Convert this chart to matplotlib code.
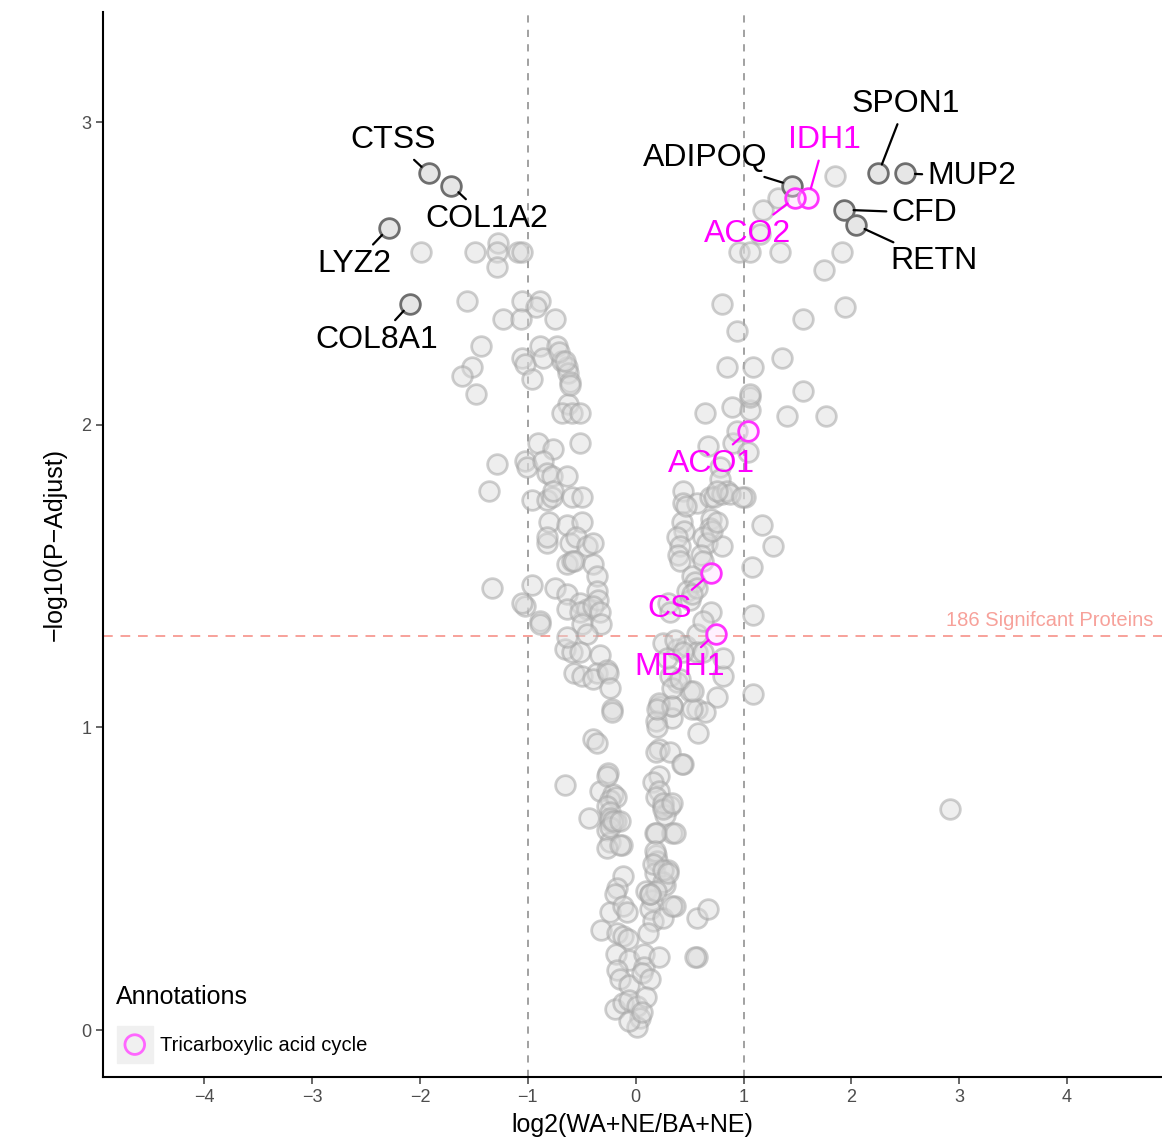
import matplotlib.pyplot as plt
import numpy as np

plt.rcParams['font.family'] = ['Liberation Sans', 'DejaVu Sans']

# log2 fold change / -log10 adjusted p for the unlabelled proteins
fc = [
    -1.99, -1.49, -1.28, -1.29, -1.29, -1.09, -1.05,
    -1.56, -1.05, -0.89, -0.92, -1.23, -1.06, -0.75,
    -1.43, -0.89, -0.73,
    -1.52, -1.05, -1.03, -0.86, -0.68, -0.64, -0.63, -0.61,
    -1.61, -0.96, -1.48, -0.63, -0.68, -0.59, -0.52,
    -0.71, -0.66, -0.61,
    -1.29, -1.36, -0.91, -0.77, -0.52, -1.03, -1.01, -0.86,
    -0.82, -0.78, -0.64, -0.96, -0.82, -0.78, -0.77, -0.59, -0.50,
    -0.80, -0.64, -0.50, -0.82, -0.82, -0.61, -0.55, -0.45, -0.40,
    -0.64, -0.59, -0.57, -0.40, -0.36,
    -1.33, -0.96, -0.75, -0.64, -1.03, -0.52, -0.45, -0.89, -0.36, -0.35,
    -0.89, -1.05, -0.64, -0.52, -0.50, -0.40, -0.33, -0.32,
    -0.45, -0.66, -0.59, -0.52, -0.33, -0.64,
    -0.57, -0.50, -0.36, -0.40, -0.27, -0.26,
    -0.24, -0.22, -0.22, -0.40, -0.36,
    -0.66, -0.26, -0.33, -0.21,
    -0.27, -0.24, -0.18, -0.27, -0.24, -0.24, -0.18, -0.27, -0.24, -0.13, -0.43,
    -0.24, -0.24, -0.21, -0.15, -0.27, -0.15,
    -0.12, -0.17, -0.19,
    -0.24, -0.12, -0.08, -0.32,
    -0.17, -0.12, -0.07,
    -0.18, -0.06, -0.17, -0.15, -0.06,
    -0.19, -0.12, -0.06, 0.01, 0.04, 0.01, -0.06,
    0.25, 0.32, 0.27, 0.18, 0.34,
    0.19, 0.20, 0.18, 0.30, 0.27,
    0.10, 0.15, 0.13, 0.16, 0.25, 0.11,
    0.36, 0.57, 0.67, 0.57,
    0.08, 0.08, 0.06, 0.22, 0.13,
    0.10, 0.06, 0.25, 0.13,
    0.75, 0.50, 0.38, 0.32, 0.81, 0.22, 0.34, 0.34, 0.19, 0.57, 0.64,
    0.58, 0.20, 0.22, 0.19, 0.32, 0.44, 0.22, 0.16, 0.22, 0.19, 0.25,
    0.25, 0.34, 0.19, 0.36, 0.18, 0.16, 0.25, 0.30, 0.19, 0.13, 0.34,
    0.55,
    0.22, 0.34, 0.20, 0.52, 0.43, 0.34, 0.41, 0.53, 0.25, 0.38, 0.47,
    0.29, 0.57, 0.57,
    0.64, 0.89, 1.06, 1.40, 0.67, 0.90, 1.04, 0.94,
    0.78, 0.78, 1.01, 0.44, 0.44, 0.57, 0.69, 0.73, 0.80, 0.85,
    0.43, 0.45, 0.70, 0.69, 1.17, 1.27,
    0.38, 0.41, 0.62, 0.66, 0.80,
    0.39, 0.41, 0.61, 0.62, 1.08,
    0.52, 0.55, 0.48, 0.50,
    0.70, 1.09, 0.30, 0.32,
    0.87, 0.99, 0.47, 0.75, 0.71, 0.75,
    0.57, 0.52, 0.62, 0.81, 0.36, 0.44, 0.62,
    1.85, 1.91, 1.75, 1.94, 1.55, 1.76, 1.55, 1.36,
    1.18, 1.32, 1.15, 0.96, 1.06, 1.34, 0.80, 0.94,
    0.85, 1.09, 1.06, 1.06, 2.91, 1.09,
]
nlp = [
    2.57, 2.57, 2.60, 2.57, 2.52, 2.57, 2.57,
    2.41, 2.41, 2.41, 2.39, 2.35, 2.35, 2.35,
    2.26, 2.26, 2.26,
    2.19, 2.22, 2.20, 2.22, 2.21, 2.19, 2.17, 2.14,
    2.16, 2.15, 2.10, 2.07, 2.04, 2.04, 2.04,
    2.24, 2.21, 2.13,
    1.87, 1.78, 1.94, 1.92, 1.94, 1.88, 1.86, 1.88,
    1.84, 1.83, 1.83, 1.75, 1.75, 1.76, 1.78, 1.76, 1.76,
    1.68, 1.67, 1.68, 1.61, 1.63, 1.61, 1.63, 1.60, 1.61,
    1.54, 1.55, 1.55, 1.54, 1.50,
    1.46, 1.47, 1.46, 1.44, 1.40, 1.41, 1.39, 1.35, 1.45, 1.42,
    1.34, 1.41, 1.39, 1.38, 1.34, 1.40, 1.38, 1.34,
    1.31, 1.26, 1.25, 1.25, 1.24, 1.30,
    1.18, 1.17, 1.18, 1.16, 1.19, 1.18,
    1.13, 1.06, 1.05, 0.96, 0.95,
    0.81, 0.85, 0.79, 0.78,
    0.84, 0.76, 0.77, 0.74, 0.72, 0.69, 0.69, 0.66, 0.62, 0.61, 0.70,
    0.70, 0.67, 0.69, 0.69, 0.60, 0.61,
    0.51, 0.47, 0.45,
    0.39, 0.41, 0.39, 0.33,
    0.32, 0.31, 0.30,
    0.25, 0.23, 0.20, 0.17, 0.15,
    0.07, 0.09, 0.10, 0.08, 0.04, 0.01, 0.03,
    0.74, 0.74, 0.71, 0.65, 0.65,
    0.58, 0.56, 0.52, 0.53, 0.48,
    0.46, 0.43, 0.40, 0.36, 0.37, 0.32,
    0.41, 0.37, 0.40, 0.24,
    0.25, 0.21, 0.19, 0.24, 0.17,
    0.11, 0.06, 0.49, 0.45,
    1.10, 1.12, 1.15, 1.17, 1.17, 1.07, 1.07, 1.03, 1.02, 1.06, 1.05,
    0.98, 1.00, 0.93, 0.92, 0.92, 0.88, 0.84, 0.82, 0.79, 0.77, 0.75,
    0.73, 0.75, 0.65, 0.65, 0.59, 0.55, 0.53, 0.52, 0.46, 0.45, 0.41,
    0.24,
    1.08, 1.07, 1.06, 1.06, 0.88, 1.13, 1.16, 1.12, 1.28, 1.26, 1.27,
    1.23, 1.31, 1.25,
    2.04, 2.06, 2.05, 2.03, 1.93, 1.94, 1.91, 1.98,
    1.86, 1.82, 1.76, 1.78, 1.74, 1.74, 1.76, 1.76, 1.77, 1.78,
    1.68, 1.65, 1.69, 1.66, 1.67, 1.60,
    1.63, 1.60, 1.63, 1.61, 1.60,
    1.57, 1.55, 1.57, 1.55, 1.53,
    1.50, 1.48, 1.45, 1.42,
    1.38, 1.37, 1.41, 1.38,
    1.77, 1.76, 1.73, 1.78, 1.65, 1.68,
    1.46, 1.44, 1.35, 1.23, 1.29, 1.25, 1.25,
    2.82, 2.57, 2.51, 2.39, 2.35, 2.03, 2.11, 2.22,
    2.71, 2.75, 2.63, 2.57, 2.57, 2.57, 2.40, 2.31,
    2.19, 2.19, 2.09, 2.10, 0.73, 1.11,
]

# labelled proteins
top_genes = ['CTSS', 'COL1A2', 'LYZ2', 'COL8A1', 'ADIPOQ', 'SPON1', 'MUP2', 'CFD', 'RETN']
top_fc = [-1.92, -1.71, -2.29, -2.09, 1.45, 2.25, 2.50, 1.93, 2.04]
top_nlp = [2.83, 2.79, 2.65, 2.40, 2.79, 2.83, 2.83, 2.71, 2.66]
top_text = [(-2.25, 2.94), (-1.38, 2.68), (-2.61, 2.53), (-2.40, 2.28), (0.64, 2.88),
            (2.50, 3.06), (3.12, 2.82), (2.68, 2.70), (2.77, 2.54)]

tca_genes = ['IDH1', 'ACO2', 'ACO1', 'CS', 'MDH1']
tca_fc = [1.60, 1.48, 1.04, 0.70, 0.74]
tca_nlp = [2.75, 2.75, 1.98, 1.51, 1.31]
tca_text = [(1.75, 2.94), (1.04, 2.63), (0.70, 1.87), (0.31, 1.39), (0.41, 1.20)]

n_sig = 186
p_cut = -np.log10(0.05)

fig = plt.figure(figsize=(11.62, 11.45), dpi=100)
ax = fig.add_axes([0.0886, 0.0594, 0.9114, 0.930])

ax.axvline(-1, color='#9a9a9a', ls=(0, (4, 4)), lw=1.3, zorder=1)
ax.axvline(1, color='#9a9a9a', ls=(0, (4, 4)), lw=1.3, zorder=1)
ax.axhline(p_cut, color='#f7a19a', ls=(0, (5, 4)), lw=1.4, zorder=1)
ax.text(4.8, p_cut + 0.022, f'{n_sig} Signifcant Proteins', color='#f7a19a',
        fontsize=14.5, ha='right', va='bottom')

ax.scatter(fc, nlp, s=200, facecolor=(0.86, 0.86, 0.86, 0.45),
           edgecolor=(0.65, 0.65, 0.65, 0.55), linewidth=2, zorder=2)
ax.scatter(top_fc, top_nlp, s=200, facecolor=(0.88, 0.88, 0.88, 0.8),
           edgecolor='#6e6e6e', linewidth=2, zorder=3)
ax.scatter(tca_fc, tca_nlp, s=200, facecolor=(1, 0.85, 1, 0.35),
           edgecolor='#ff33ff', linewidth=2, zorder=4)

for g, x, y, (tx, ty) in zip(top_genes, top_fc, top_nlp, top_text):
    ax.annotate(g, (x, y), xytext=(tx, ty), fontsize=23, color='black',
                ha='center', va='center', zorder=5,
                arrowprops=dict(arrowstyle='-', color='black', lw=1.6,
                                shrinkA=2, shrinkB=7))
for g, x, y, (tx, ty) in zip(tca_genes, tca_fc, tca_nlp, tca_text):
    ax.annotate(g, (x, y), xytext=(tx, ty), fontsize=23, color='#ff00ff',
                ha='center', va='center', zorder=5,
                arrowprops=dict(arrowstyle='-', color='#ff00ff', lw=1.6,
                                shrinkA=2, shrinkB=7))

# legend
ax.text(-4.82, 0.11, 'Annotations', fontsize=18, ha='left', va='center')
ax.add_patch(plt.Rectangle((-4.81, -0.109), 0.33, 0.122, color='#f0f0f0', zorder=2))
ax.scatter([-4.645], [-0.048], s=200, facecolor='none', edgecolor='#ff66ff',
           linewidth=2, zorder=3)
ax.text(-4.41, -0.05, 'Tricarboxylic acid cycle', fontsize=14.5, ha='left', va='center')

ax.set_xlim(-4.94, 4.88)
ax.set_ylim(-0.155, 3.363)
ax.set_xticks([-4, -3, -2, -1, 0, 1, 2, 3, 4])
ax.set_yticks([0, 1, 2, 3])
ax.set_xticklabels(['\u22124', '\u22123', '\u22122', '\u22121', '0', '1', '2', '3', '4'])
ax.spines['top'].set_visible(False)
ax.spines['right'].set_visible(False)
ax.spines['left'].set_linewidth(1.5)
ax.spines['bottom'].set_linewidth(1.5)
ax.tick_params(colors='#4d4d4d', labelsize=13, length=5, width=1.2)
ax.set_xlabel('log2(WA+NE/BA+NE)', fontsize=18, labelpad=5)
ax.set_ylabel('\u2212log10(P\u2212Adjust)', fontsize=18, labelpad=10)

plt.savefig('out.png', dpi=100)
